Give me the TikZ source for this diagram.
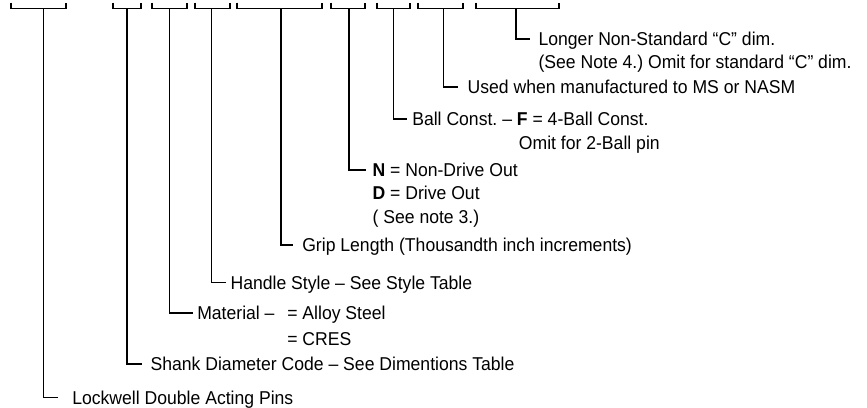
\documentclass[tikz,border=0pt]{standalone}
\usepackage{fontspec}
\setmainfont{Liberation Sans}[FakeStretch=0.946]
\begin{document}
\frenchspacing
\begin{tikzpicture}[x=1pt,y=-1pt,line width=1.2pt,
  lbl/.style={anchor=west,inner sep=0pt,text height=13.3pt,text depth=0pt,font=\fontsize{18.6}{22}\selectfont},
  brk/.style={line cap=butt,line join=miter},
  lead/.style={line cap=butt,line join=miter}]
\useasboundingbox (0,0) rectangle (867,407);
% brackets
\draw[brk] (11,2.5) |- (66,8.5) -- (66,2.5);
\draw[brk] (113,2.5) |- (141,8.5) -- (141,2.5);
\draw[brk] (152,2.5) |- (187,8.5) -- (187,2.5);
\draw[brk] (195,2.5) |- (230,8.5) -- (230,2.5);
\draw[brk] (237,2.5) |- (322,8.5) -- (322,2.5);
\draw[brk] (331,2.5) |- (365,8.5) -- (365,2.5);
\draw[brk] (377,2.5) |- (410,8.5) -- (410,2.5);
\draw[brk] (418,2.5) |- (463,8.5) -- (463,2.5);
\draw[brk] (476,2.5) |- (559,8.5) -- (559,2.5);
\coordinate (s1) at (43.5,8.5);
\coordinate (s2) at (127,8.5);
\coordinate (s3) at (169.5,8.5);
\coordinate (s4) at (211.8,8.5);
\coordinate (s5) at (281,8.5);
\coordinate (s6) at (349,8.5);
\coordinate (s7) at (393.3,8.5);
\coordinate (s8) at (443.3,8.5);
\coordinate (s9) at (516,8.5);
% labels
\node[lbl] (t9a) at (538,39) {Longer Non-Standard “C” dim.};
\node[lbl] (t9b) at (538,62) {(See Note 4.) Omit for standard “C” dim.};
\node[lbl] (t8) at (467,87) {Used when manufactured to MS or NASM};
\node[lbl] (t7a) at (411.7,119) {Ball Const. – \textbf{F} = 4-Ball Const.};
\node[lbl] (t7b) at (518.3,143) {Omit for 2-Ball pin};
\node[lbl] (t6a) at (372,170) {\textbf{N} = Non-Drive Out};
\node[lbl] (t6b) at (372,193) {\textbf{D} = Drive Out};
\node[lbl] (t6c) at (372,217) {( See note 3.)};
\node[lbl] (t5) at (301.7,245) {Grip Length (Thousandth inch increments)};
\node[lbl] (t4) at (230,282.5) {Handle Style – See Style Table};
\node[lbl] (t3) at (196.7,313) {Material –};
\node[lbl] (t3b) at (286.7,313) {= Alloy Steel};
\node[lbl] (t3c) at (286.7,339) {= CRES};
\node[lbl] (t2) at (150,364) {Shank Diameter Code – See Dimentions Table};
\node[lbl] (t1) at (71.7,397.5) {Lockwell Double Acting Pins};
% leaders
\draw[lead] (s9) |- ([xshift=-8pt]t9a.west);
\draw[lead] (s8) |- ([xshift=-9pt]t8.west);
\draw[lead] (s7) |- ([xshift=-5pt]t7a.west);
\draw[lead] (s6) |- ([xshift=-6pt]t6a.west);
\draw[lead] (s5) |- ([xshift=-8.7pt]t5.west);
\draw[lead] (s4) |- ([xshift=-4pt]t4.west);
\draw[lead] (s3) |- ([xshift=-4pt]t3.west);
\draw[lead] (s2) |- ([xshift=-8.3pt]t2.west);
\draw[lead] (s1) |- ([xshift=-13.4pt]t1.west);
\end{tikzpicture}
\end{document}
